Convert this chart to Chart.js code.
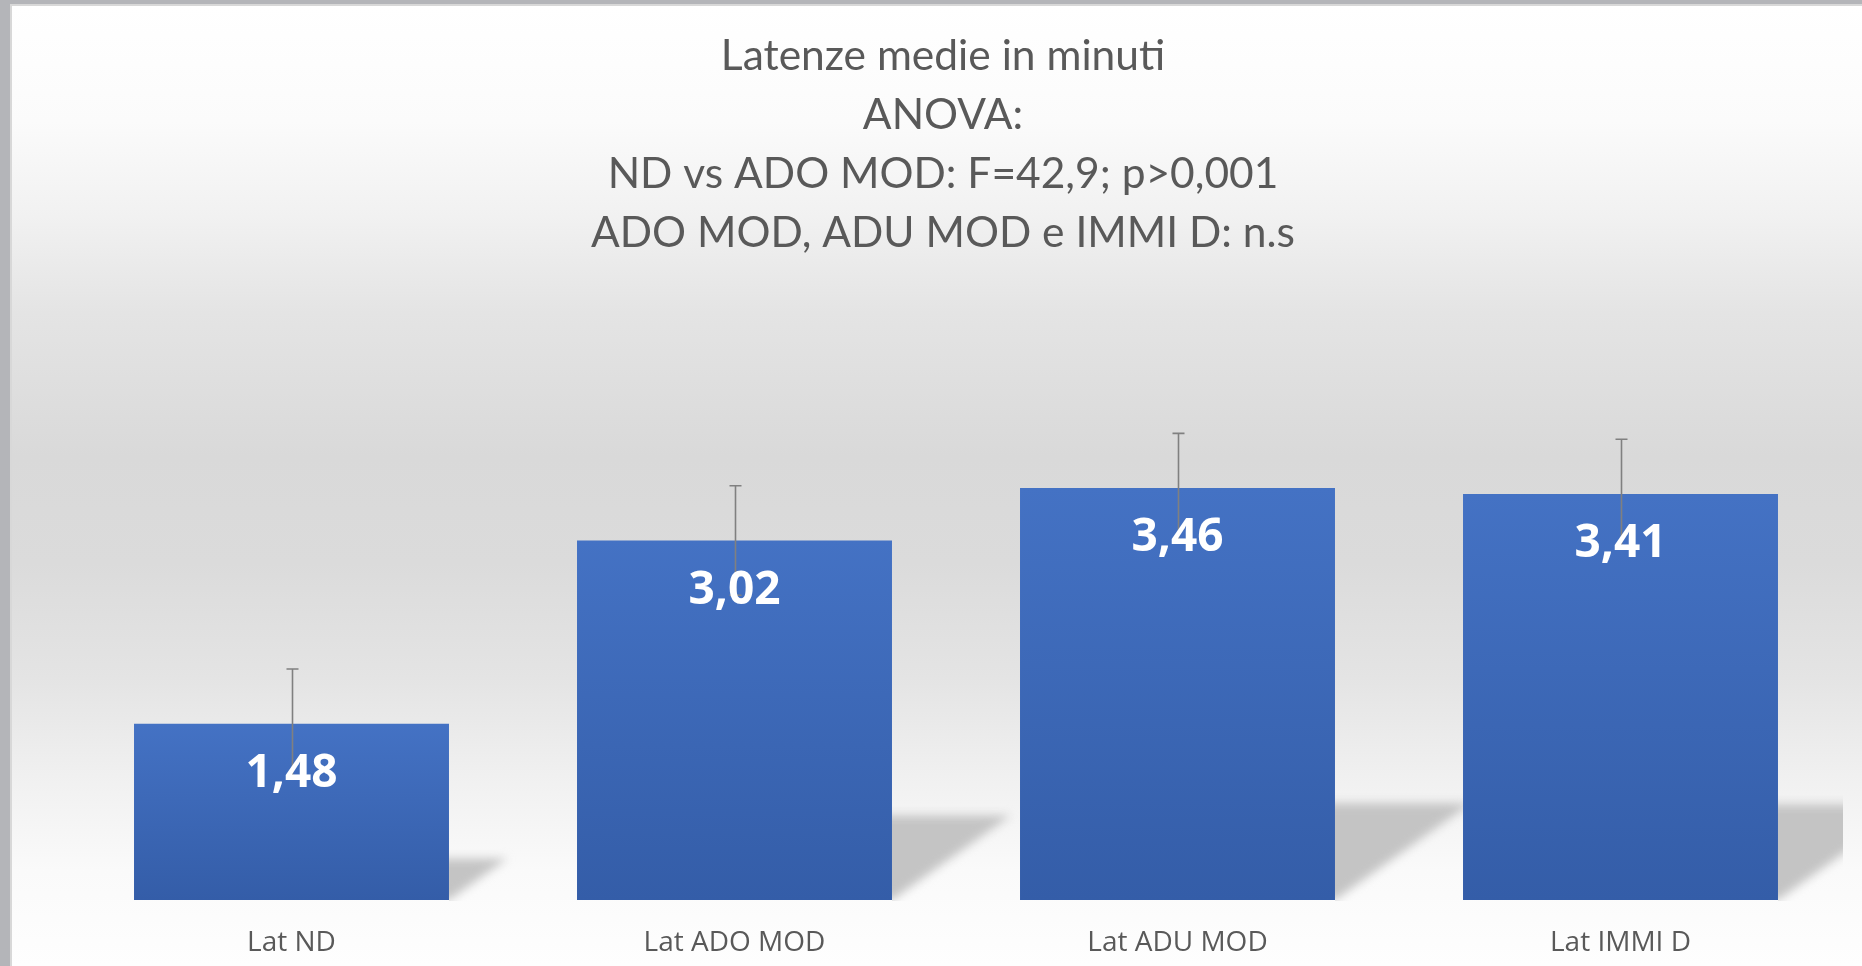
<!DOCTYPE html>
<html>
<head>
<meta charset="utf-8">
<script src="https://cdn.jsdelivr.net/npm/chart.js@4.4.1/dist/chart.umd.min.js"></script>
<style>
  html, body { margin: 0; padding: 0; background: #b4b5b9; overflow: hidden; }
  #wrap { position: absolute; left: 10px; top: 4px; border-left: 2px solid #d8d8d8; border-top: 2px solid #d8d8d8; }
  canvas { display: block; }
</style>
</head>
<body>
<div id="wrap"><canvas id="c" width="1850" height="960"></canvas></div>
<script>
// ---- data ----
const categories = ['Lat ND', 'Lat ADO MOD', 'Lat ADU MOD', 'Lat IMMI D'];
const means = [1.48, 3.02, 3.46, 3.41];
const errors = [0.46, 0.46, 0.46, 0.46];
const titleLines = [
  'Latenze medie in minuti',
  'ANOVA:',
  'ND vs ADO MOD: F=42,9; p>0,001',
  'ADO MOD, ADU MOD e IMMI D: n.s'
];
const yMin = 0;
const yMax = 4.5;

// ---- plugins ----
const backgroundPlugin = {
  id: 'bg',
  beforeDraw(chart) {
    const { ctx, width, height } = chart;
    const g = ctx.createLinearGradient(0, 0, 0, height);
    g.addColorStop(0.00, '#ffffff');
    g.addColorStop(0.12, '#fbfbfb');
    g.addColorStop(0.22, '#f1f1f1');
    g.addColorStop(0.32, '#e4e4e4');
    g.addColorStop(0.47, '#d9d9d9');
    g.addColorStop(0.58, '#dbdbdb');
    g.addColorStop(0.70, '#e4e4e4');
    g.addColorStop(0.81, '#f1f1f1');
    g.addColorStop(0.90, '#fafafa');
    g.addColorStop(1.00, '#fefefe');
    ctx.save();
    ctx.fillStyle = g;
    ctx.fillRect(0, 0, width, height);
    ctx.restore();
  }
};

const shadowPlugin = {
  id: 'barShadow',
  beforeDatasetsDraw(chart) {
    const { ctx, chartArea } = chart;
    const meta = chart.getDatasetMeta(0);
    meta.data.forEach((bar) => {
      const right = bar.x + bar.width / 2;
      const h = bar.base - bar.y;
      const dx = 0.33 * h;
      const sh = 0.235 * h;
      ctx.save();
      ctx.beginPath();
      ctx.rect(right, 0, chartArea.right + 1 - right, bar.base + 1);
      ctx.clip();
      ctx.filter = 'blur(5px)';
      ctx.fillStyle = '#c4c4c4';
      ctx.beginPath();
      ctx.moveTo(right - 20, bar.base);
      ctx.lineTo(right, bar.base);
      ctx.lineTo(right + dx, bar.base - sh);
      ctx.lineTo(right - 20, bar.base - sh);
      ctx.closePath();
      ctx.fill();
      ctx.restore();
    });
  }
};

const errorAndLabelPlugin = {
  id: 'errLabels',
  afterDatasetsDraw(chart) {
    const { ctx } = chart;
    const yScale = chart.scales.y;
    const meta = chart.getDatasetMeta(0);
    ctx.save();
    ctx.strokeStyle = '#808080';
    ctx.lineWidth = 1.6;
    meta.data.forEach((bar, i) => {
      const v = means[i];
      const e = errors[i];
      const yTop = yScale.getPixelForValue(v + e);
      const yBot = yScale.getPixelForValue(v - e);
      const x = Math.round(bar.x) + 0.5;
      ctx.beginPath();
      ctx.moveTo(x, yTop);
      ctx.lineTo(x, yBot);
      ctx.moveTo(x - 6, yTop);
      ctx.lineTo(x + 6, yTop);
      ctx.moveTo(x - 6, yBot);
      ctx.lineTo(x + 6, yBot);
      ctx.stroke();
    });
    ctx.fillStyle = '#ffffff';
    ctx.font = 'bold 46px "Open Sans"';
    ctx.textAlign = 'center';
    ctx.textBaseline = 'middle';
    meta.data.forEach((bar, i) => {
      const label = means[i].toFixed(2).replace('.', ',');
      ctx.fillText(label, bar.x, bar.y + 50);
    });
    ctx.restore();
  }
};

// ---- chart ----
new Chart(document.getElementById('c'), {
  type: 'bar',
  data: {
    labels: categories,
    datasets: [{
      data: means,
      backgroundColor(context) {
        const chart = context.chart;
        const y = chart.scales && chart.scales.y;
        if (!y || context.raw === undefined || !chart.chartArea) return '#4472c4';
        const top = y.getPixelForValue(context.raw);
        const base = y.getPixelForValue(0);
        if (!isFinite(top) || !isFinite(base) || base === top) return '#4472c4';
        const g = chart.ctx.createLinearGradient(0, top, 0, base);
        g.addColorStop(0, '#4472c4');
        g.addColorStop(1, '#345da8');
        return g;
      },
      borderWidth: 0,
      barPercentage: 0.711,
      categoryPercentage: 1.0
    }]
  },
  options: {
    responsive: false,
    animation: false,
    layout: { padding: { left: 12, right: 0, top: 0, bottom: 0 } },
    plugins: {
      legend: { display: false },
      tooltip: { enabled: false },
      title: {
        display: true,
        text: titleLines,
        color: '#595959',
        font: { family: 'Lato', size: 42.5, weight: 'normal', lineHeight: 1.39 },
        padding: { top: 21, bottom: 101 }
      }
    },
    scales: {
      x: {
        grid: { display: false, drawTicks: false },
        border: { display: false },
        ticks: { color: '#595959', font: { family: 'Open Sans', size: 28 }, padding: 26 },
        afterFit(scale) { scale.height = 66; }
      },
      y: {
        position: 'left',
        min: yMin,
        max: yMax,
        grid: { display: false, drawTicks: false },
        border: { display: false },
        ticks: { display: false },
        afterFit(scale) { scale.width = 46; }
      },
      yRight: {
        position: 'right',
        min: yMin,
        max: yMax,
        grid: { display: false, drawTicks: false },
        border: { display: false },
        ticks: { display: false },
        afterFit(scale) { scale.width = 20; }
      }
    }
  },
  plugins: [backgroundPlugin, shadowPlugin, errorAndLabelPlugin]
});
</script>
</body>
</html>
